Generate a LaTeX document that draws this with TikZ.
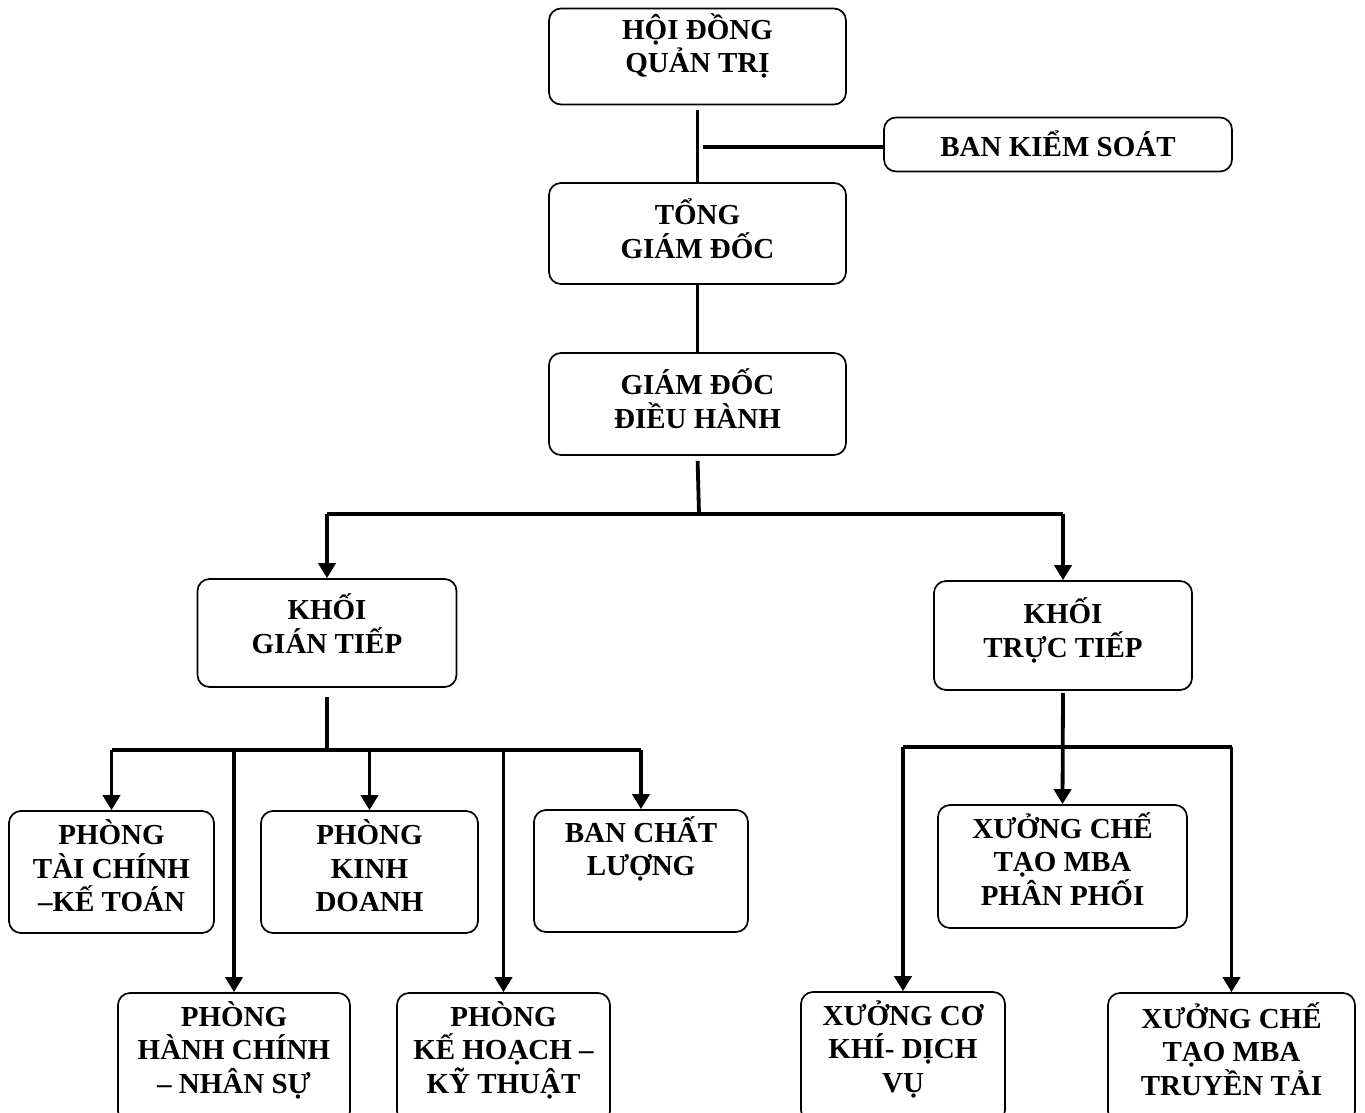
\documentclass[tikz,border=0pt]{standalone}
\usepackage{fontspec}
\setmainfont{Liberation Serif}
\usetikzlibrary{arrows.meta}
\usetikzlibrary{calc}

\begin{document}
\begin{tikzpicture}[x=1pt, y=-1pt,
  box/.style={draw, line width=1.7pt, rounded corners=12pt, align=center, inner sep=0pt,
    font=\fontsize{29}{33.5}\selectfont\bfseries},
  lift/.style={text height=#1pt, text depth=0pt},
  link/.style={line width=3.8pt},
  arr/.style={line width=3.8pt, -{Triangle[length=15pt,width=17pt]}}]
\useasboundingbox (0,0) rectangle (1365,1113);

\node[box, lift=33, minimum width=297pt, minimum height=96pt]  (hdqt) at (697.5,56.5)  {HỘI ĐỒNG\\QUẢN TRỊ};
\node[box, lift=25, minimum width=348pt, minimum height=54pt]  (bks)  at (1058,144.5)  {BAN KIỂM SOÁT};
\node[box, lift=49, minimum width=297pt, minimum height=101pt] (tgd)  at (697.5,233.5) {TỔNG\\GIÁM ĐỐC};
\node[box, lift=48, minimum width=297pt, minimum height=102pt] (gddh) at (697.5,404)   {GIÁM ĐỐC\\ĐIỀU HÀNH};
\node[box, lift=40, minimum width=259pt, minimum height=108pt] (kgt)  at (327,633)     {KHỐI\\GIÁN TIẾP};
\node[box, lift=43, minimum width=258pt, minimum height=109pt] (ktt)  at (1063,635.5)  {KHỐI\\TRỰC TIẾP};
\node[box, lift=79, minimum width=205pt, minimum height=122pt] (tckt) at (111.5,872)   {PHÒNG\\TÀI CHÍNH\\–KẾ TOÁN};
\node[box, lift=79, minimum width=217pt, minimum height=122pt] (kd)   at (369.5,872)   {PHÒNG\\KINH\\DOANH};
\node[box, lift=9,  minimum width=214pt, minimum height=122pt] (bcl)  at (641,871)     {BAN CHẤT\\LƯỢNG};
\node[box, lift=70, minimum width=232pt, minimum height=130pt] (hcns) at (234,1058)    {PHÒNG\\HÀNH CHÍNH\\– NHÂN SỰ};
\node[box, lift=70, minimum width=213pt, minimum height=130pt] (khkt) at (503.5,1058)  {PHÒNG\\KẾ HOẠCH –\\KỸ THUẬT};
\node[box, lift=77, minimum width=249pt, minimum height=123pt] (pp)   at (1062.5,866.5) {XƯỞNG CHẾ\\TẠO MBA\\PHÂN PHỐI};
\node[box, lift=70, minimum width=204pt, minimum height=130pt] (xck)  at (903,1057)    {XƯỞNG CƠ\\KHÍ- DỊCH\\VỤ};
\node[box, lift=74, minimum width=247pt, minimum height=130pt] (xtt)  at (1231.5,1058) {XƯỞNG CHẾ\\TẠO MBA\\TRUYỀN TẢI};

\coordinate (top) at (699,147);
\coordinate (fork1) at (699,514);
\coordinate (fork2) at (327,750);
\coordinate (fork3) at (1066,747);

\draw[link, shorten <=5pt] (hdqt.south) -- (tgd.north);
\draw[link, shorten >=4pt] (bks.west |- top) -- (top);
\draw[link] (tgd.south) -- (gddh.north);
\draw[link, shorten <=5pt] (gddh.south) -- (fork1);
\draw[link] (kgt.north |- fork1) -- (ktt.north |- fork1);
\draw[arr] (kgt.north |- fork1) -- (kgt.north);
\draw[arr] (ktt.north |- fork1) -- (ktt.north);

\draw[link, shorten <=9pt] (kgt.south) -- (fork2);
\draw[link] (tckt.north |- fork2) -- (bcl.north |- fork2);
\foreach \n in {tckt,hcns,kd,khkt,bcl}
  \draw[arr] (\n.north |- fork2) -- (\n.north);

\draw[arr, shorten <=2pt] (ktt.south) -- (pp.north);
\draw[link] (xck.north |- fork3) -- (xtt.north |- fork3);
\draw[arr] (xck.north |- fork3) -- (xck.north);
\draw[arr] (xtt.north |- fork3) -- (xtt.north);
\end{tikzpicture}
\end{document}
